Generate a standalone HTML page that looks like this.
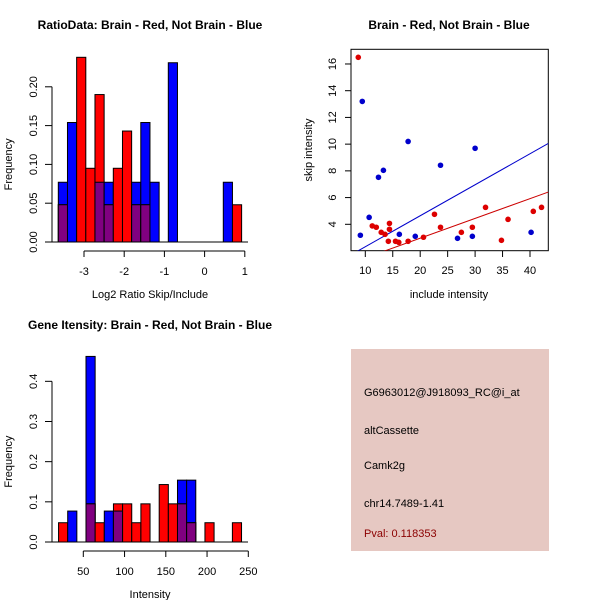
<!DOCTYPE html>
<html><head><meta charset="utf-8"><style>
body{margin:0;background:#fff}
svg{display:block;font-family:"Liberation Sans",sans-serif}
</style></head><body>
<svg id="c" width="600" height="600" viewBox="0 0 600 600">
<rect width="600" height="600" fill="#fff"/>
<g id="g1"></g>
<g id="g2"></g>
<g id="g3"></g>
<g>
<rect x="351" y="349" width="198" height="202" fill="#e6c8c2"/>
<text x="364" y="396" font-size="11" fill="#000">G6963012@J918093_RC@i_at</text>
<text x="364" y="434" font-size="11" fill="#000">altCassette</text>
<text x="364" y="469" font-size="11" fill="#000">Camk2g</text>
<text x="364" y="507" font-size="11" fill="#000">chr14.7489-1.41</text>
<text x="364" y="537" font-size="11" fill="#8b0000">Pval: 0.118353</text>
</g>
</svg>
<script>
// Histogram 1 data
const h1Start = -3.639, h1Width = 0.228;
const h1Blue = [0.077,0.154,0,0,0.077,0.077,0,0,0.077,0.154,0.077,0,0.231,0,0,0,0,0,0.077,0];
const h1Red  = [0.048,0,0.238,0.095,0.190,0.048,0.095,0.143,0.048,0.048,0,0,0,0,0,0,0,0,0,0.048];
const h1XTicks = [-3,-2,-1,0,1];
const h1YTicks = [0,0.05,0.10,0.15,0.20];
const h1YLabels = ["0.00","0.05","0.10","0.15","0.20"];
// Histogram 3 data
const h3Start = 20, h3Width = 11.09;
const h3Blue = [0,0.077,0,0.462,0,0.077,0.077,0,0,0,0,0,0,0.154,0.154,0,0,0,0,0];
const h3Red  = [0.048,0,0,0.095,0.048,0,0.095,0.095,0.048,0.095,0,0.143,0.095,0.095,0.048,0,0.048,0,0,0.048];
const h3XTicks = [50,100,150,200,250];
const h3YTicks = [0,0.1,0.2,0.3,0.4];
const h3YLabels = ["0.0","0.1","0.2","0.3","0.4"];
// Scatter data
const redX = [8.72,11.27,12.0,12.9,13.6,14.4,14.4,14.2,15.5,16.1,17.8,20.6,22.6,23.7,27.5,29.5,31.9,34.8,36.0,40.6,42.1];
const redY = [16.5,3.88,3.78,3.4,3.25,4.07,3.63,2.73,2.73,2.65,2.73,3.03,4.75,3.78,3.4,3.78,5.27,2.8,4.37,4.97,5.27];
const blueX = [9.1,9.45,10.7,12.4,13.3,16.2,17.8,19.1,23.7,26.8,29.5,30.0,40.2];
const blueY = [3.18,13.2,4.52,7.52,8.04,3.25,10.2,3.1,8.42,2.95,3.1,9.69,3.4];
const blueSlope = 0.232, redSlope = 0.148;
const sXTicks = [10,15,20,25,30,35,40];
const sYTicks = [4,6,8,10,12,14,16];

const NS="http://www.w3.org/2000/svg";
function mk(p,tag,a){const e=document.createElementNS(NS,tag);for(const k in a)e.setAttribute(k,a[k]);p.appendChild(e);return e;}
function txt(p,x,y,s,size,rot,anchor){const t=mk(p,'text',{x:x,y:y,'font-size':size,'text-anchor':anchor||'middle',fill:'#000'});if(rot)t.setAttribute('transform','rotate(-90 '+x+' '+y+')');t.textContent=s;return t;}

function hist(g,o){
  const sx=v=>o.x0px+(v-o.x0)*o.kx, sy=v=>o.y0px-v*o.ky;
  const t=txt(g,150,o.titleY,o.title,12);t.setAttribute('font-weight','bold');
  
  for(let i=0;i<o.blue.length;i++){
    const x1=sx(o.start+i*o.w), x2=sx(o.start+(i+1)*o.w);
    const b=o.blue[i], r=o.red[i];
    if(b>0){const e=mk(g,'rect',{x:x1,y:sy(b),width:x2-x1,height:sy(0)-sy(b),fill:'#0000ff',stroke:'#000','stroke-width':1});
      }
    if(r>0){const e=mk(g,'rect',{x:x1,y:sy(r),width:x2-x1,height:sy(0)-sy(r),fill:'#ff0000',stroke:'#000','stroke-width':1});
      }
    if(b>0&&r>0){const m=Math.min(b,r);const e=mk(g,'rect',{x:x1,y:sy(m),width:x2-x1,height:sy(0)-sy(m),fill:'#800080',stroke:'#000','stroke-width':1});
      }
  }
  mk(g,'line',{x1:52,x2:248,y1:sy(0),y2:sy(0),stroke:'#000'});
  // y axis
  const ya=mk(g,'g',{});
  mk(ya,'line',{x1:52,x2:52,y1:sy(o.yt[0]),y2:sy(o.yt[o.yt.length-1]),stroke:'#000'});
  o.yt.forEach((v,i)=>{mk(ya,'line',{x1:45,x2:52,y1:sy(v),y2:sy(v),stroke:'#000'});txt(ya,37,sy(v),o.yl[i],11,true);});
  const xa=mk(g,'g',{});
  const ay=o.y0px+9;
  mk(xa,'line',{x1:sx(o.xt[0]),x2:sx(o.xt[o.xt.length-1]),y1:ay,y2:ay,stroke:'#000'});
  o.xt.forEach(v=>{mk(xa,'line',{x1:sx(v),x2:sx(v),y1:ay,y2:ay+6,stroke:'#000'});txt(xa,sx(v),ay+24,String(v),11);});
  const xl=txt(g,150,o.y0px+56,o.xlab,11);
  const yl=txt(g,12,sy(o.yt[2]),'Frequency',11,true);
}
hist(document.getElementById('g1'),{start:h1Start,w:h1Width,blue:h1Blue,red:h1Red,x0:-3,x0px:84,kx:40.2,y0px:242,ky:776,
  xt:h1XTicks,yt:h1YTicks,yl:h1YLabels,title:'RatioData: Brain - Red, Not Brain - Blue',titleY:29,xlab:'Log2 Ratio Skip/Include'});
hist(document.getElementById('g3'),{start:h3Start,w:h3Width,blue:h3Blue,red:h3Red,x0:50,x0px:83.3,kx:0.825,y0px:542,ky:401.7,
  xt:h3XTicks,yt:h3YTicks,yl:h3YLabels,title:'Gene Itensity: Brain - Red, Not Brain - Blue',titleY:329,xlab:'Intensity'});

// scatter
(function(){
  const g=document.getElementById('g2');
  const sx=v=>365.3+(v-10)*5.49, sy=v=>224.3-(v-4)*13.36;
  const xmin=7.4,xmax=43.33,ymin=2.02;
  const t=txt(g,449,29,'Brain - Red, Not Brain - Blue',12);t.setAttribute('font-weight','bold');
  
  const cp=mk(g,'clipPath',{id:'cp'});mk(cp,'rect',{x:351,y:49.3,width:197.3,height:201.4});
  const b=mk(g,'rect',{x:351,y:49.3,width:197.3,height:201.4,fill:'none',stroke:'#000'});
  
  const lg=mk(g,'g',{'clip-path':'url(#cp)'});
  let l=mk(lg,'line',{x1:sx(xmin),y1:sy(xmin*blueSlope),x2:sx(xmax),y2:sy(xmax*blueSlope),stroke:'#0000cc'});
  
  l=mk(lg,'line',{x1:sx(xmin),y1:sy(xmin*redSlope),x2:sx(xmax),y2:sy(xmax*redSlope),stroke:'#cc0000'});
  
  redX.forEach((x,i)=>{const c=mk(g,'circle',{cx:sx(x),cy:sy(redY[i]),r:2.8,fill:'#dd0000'});
    });
  blueX.forEach((x,i)=>{const c=mk(g,'circle',{cx:sx(x),cy:sy(blueY[i]),r:2.8,fill:'#0000cc'});
    });
  const xa=mk(g,'g',{});
  sXTicks.forEach(v=>{mk(xa,'line',{x1:sx(v),x2:sx(v),y1:250.7,y2:257,stroke:'#000'});txt(xa,sx(v),274,String(v),11);});
  const ya=mk(g,'g',{});
  sYTicks.forEach(v=>{mk(ya,'line',{x1:345,x2:351,y1:sy(v),y2:sy(v),stroke:'#000'});txt(ya,336,sy(v),String(v),11,true);});
  const xl=txt(g,449,298,'include intensity',11);
  const yl=txt(g,312,150,'skip intensity',11,true);
})();
</script>
</body></html>
